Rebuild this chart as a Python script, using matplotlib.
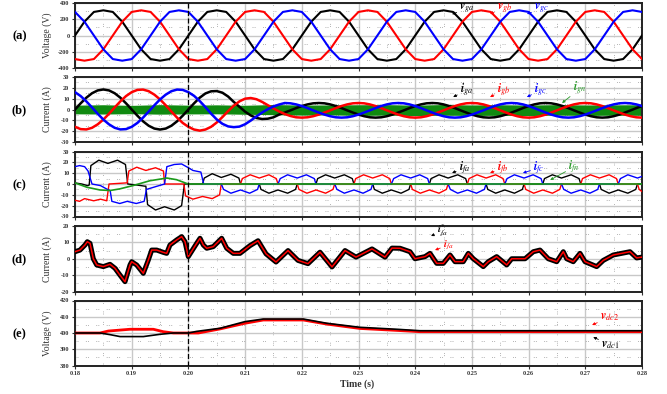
import numpy as np
import matplotlib
matplotlib.use("Agg")
import matplotlib.pyplot as plt
from matplotlib.ticker import MultipleLocator

plt.rcParams['font.family'] = ['Liberation Serif', 'DejaVu Serif']
plt.rcParams['mathtext.fontset'] = 'stix'

# ---------------- data ----------------
x_ticks = [0.18, 0.19, 0.20, 0.21, 0.22, 0.23, 0.24, 0.25, 0.26, 0.27, 0.28]
x_ticklabels = ['0.18', '0.19', '0.20', '0.21', '0.22', '0.23', '0.24', '0.25', '0.26', '0.27', '0.28']

# (a) grid voltages, sampled every 1/12 of a cycle (1.667 ms)
t_a = np.linspace(0.18, 0.28, 61)
v_ga = [0, 170, 290, 310, 290, 170, 0, -170, -290, -310, -290, -170,
        0, 170, 290, 310, 290, 170, 0, -170, -290, -310, -290, -170,
        0, 170, 290, 310, 290, 170, 0, -170, -290, -310, -290, -170,
        0, 170, 290, 310, 290, 170, 0, -170, -290, -310, -290, -170,
        0, 170, 290, 310, 290, 170, 0, -170, -290, -310, -290, -170, 0]
v_gb = [-290, -310, -290, -170, 0, 170, 290, 310, 290, 170, 0, -170,
        -290, -310, -290, -170, 0, 170, 290, 310, 290, 170, 0, -170,
        -290, -310, -290, -170, 0, 170, 290, 310, 290, 170, 0, -170,
        -290, -310, -290, -170, 0, 170, 290, 310, 290, 170, 0, -170,
        -290, -310, -290, -170, 0, 170, 290, 310, 290, 170, 0, -170, -290]
v_gc = [290, 170, 0, -170, -290, -310, -290, -170, 0, 170, 290, 310,
        290, 170, 0, -170, -290, -310, -290, -170, 0, 170, 290, 310,
        290, 170, 0, -170, -290, -310, -290, -170, 0, 170, 290, 310,
        290, 170, 0, -170, -290, -310, -290, -170, 0, 170, 290, 310,
        290, 170, 0, -170, -290, -310, -290, -170, 0, 170, 290, 310, 290]

# (b) grid currents, sampled every 1 ms from 0.180 to 0.280
t_b = np.linspace(0.18, 0.28, 101)
i_ga = [0, 5.7, 10.9, 15.0, 17.6, 18.5, 17.6, 15.0, 10.9, 5.7, 0, -5.7, -10.9, -15.0, -17.6,
        -18.5, -17.6, -15.0, -10.9, -5.7, 0,
        5.7, 10.9, 14.8, 16.8, 17.0, 15.5, 12.0, 7.0, 2.5, -2.0, -5.5, -7.8, -8.8, -8.5, -7.2,
        -4.7, -2.8, -0.8, 1.3, 3.2, 4.7, 5.7, 6.0, 5.7, 4.7, 3.2, 1.3, -0.8, -2.8, -4.7, -6.2, -7.2, -7.5, -7.2, -6.2,
        -4.7, -2.8, -0.8, 1.3, 3.2, 4.7, 5.7, 6.0, 5.7, 4.7, 3.2, 1.3, -0.8, -2.8, -4.7, -6.2, -7.2, -7.5, -7.2, -6.2,
        -4.7, -2.8, -0.8, 1.3, 3.2, 4.7, 5.7, 6.0, 5.7, 4.7, 3.2, 1.3, -0.8, -2.8, -4.7, -6.2, -7.2, -7.5, -7.2, -6.2,
        -4.7, -2.8, -0.8, 1.3, 3.2]
i_gb = [-16.0, -18.1, -18.4, -16.9, -13.7, -9.3, -3.9, 1.9, 7.5, 12.4, 16.0, 18.1, 18.4, 16.9,
        13.7, 9.3, 3.9, -1.9, -7.5, -12.4, -16.0,
        -18.5, -19.5, -18.5, -16.0, -12.0, -7.0, -1.5, 3.5, 7.5, 10.0, 10.6, 9.5, 7.0, 4.0, 1.0,
        -1.8, -4.2, -6.0, -7.2, -7.5,
        -7.2, -6.2, -4.7, -2.8, -0.8, 1.3, 3.2, 4.7, 5.7, 6.0, 5.7, 4.7, 3.2, 1.3, -0.8, -2.8, -4.7, -6.2, -7.2, -7.5,
        -7.2, -6.2, -4.7, -2.8, -0.8, 1.3, 3.2, 4.7, 5.7, 6.0, 5.7, 4.7, 3.2, 1.3, -0.8, -2.8, -4.7, -6.2, -7.2, -7.5,
        -7.2, -6.2, -4.7, -2.8, -0.8, 1.3, 3.2, 4.7, 5.7, 6.0, 5.7, 4.7, 3.2, 1.3, -0.8, -2.8, -4.7, -6.2, -7.2, -7.5]
i_gc = [16.0, 12.4, 7.5, 1.9, -3.9, -9.3, -13.7, -16.9, -18.4, -18.1, -16.0, -12.4, -7.5, -1.9,
        3.9, 9.3, 13.7, 16.9, 18.4, 18.1, 16.0,
        12.6, 7.8, 2.2, -3.8, -9.2, -13.2, -15.6, -16.3, -15.8, -13.6, -10.2, -6.4, -2.8, 0.3, 2.8, 4.6, 6.0,
        5.7, 4.7, 3.2, 1.3, -0.8, -2.8, -4.7, -6.2, -7.2, -7.5, -7.2, -6.2, -4.7, -2.8, -0.8, 1.3, 3.2, 4.7, 5.7, 6.0,
        5.7, 4.7, 3.2, 1.3, -0.8, -2.8, -4.7, -6.2, -7.2, -7.5, -7.2, -6.2, -4.7, -2.8, -0.8, 1.3, 3.2, 4.7, 5.7, 6.0,
        5.7, 4.7, 3.2, 1.3, -0.8, -2.8, -4.7, -6.2, -7.2, -7.5, -7.2, -6.2, -4.7, -2.8, -0.8, 1.3, 3.2, 4.7, 5.7, 6.0,
        5.7, 4.7, 3.2]
t_gn = [0.18, 0.185, 0.19, 0.195, 0.20, 0.205, 0.21, 0.215, 0.22, 0.225, 0.23, 0.235, 0.24,
        0.245, 0.25, 0.255, 0.26, 0.265, 0.27, 0.275, 0.28]
i_gn_hi = [4.0, 4.4, 3.8, 4.5, 4.0, 4.3, 3.9, 4.6, 4.1, 4.2, 4.4, 4.5, 4.0, 4.6, 4.2, 4.4,
           4.1, 4.5, 4.2, 4.3, 4.4]
i_gn_lo = [-4.0, -4.2, -3.9, -4.3, -4.1, -4.0, -4.4, -4.8, -5.2, -5.0, -5.5, -5.2, -5.6,
           -5.3, -5.5, -5.4, -5.6, -5.2, -5.5, -5.3, -5.4]

# (c) filter currents (time, value)
i_fa = [(0.1800, 1.0), (0.1812, 0.0), (0.1822, -1.5),
        (0.1825, -1.0), (0.1828, 17), (0.1842, 22), (0.1858, 19), (0.1875, 22), (0.1889, 18), (0.1893, 0),
        (0.1910, -1.0), (0.1923, -2.0),
        (0.1925, -2.0), (0.1928, -19), (0.1942, -24), (0.1958, -21), (0.1975, -24), (0.1988, -20), (0.1993, 0),
        (0.2024, 0),
        (0.2025, 0), (0.2028, 5.5), (0.2042, 9.5), (0.2058, 6), (0.2075, 9), (0.2089, 5.5), (0.2092, 0),
        (0.2125, 0), (0.2128, -5), (0.2142, -8.5), (0.2158, -5.5), (0.2175, -8.5), (0.2189, -5), (0.2192, 0),
        (0.2225, 0), (0.2228, 5), (0.2242, 8.5), (0.2258, 5.5), (0.2275, 8.5), (0.2289, 5), (0.2292, 0),
        (0.2325, 0), (0.2328, -5), (0.2342, -8.5), (0.2358, -5.5), (0.2375, -8.5), (0.2389, -5), (0.2392, 0),
        (0.2425, 0), (0.2428, 5), (0.2442, 8.5), (0.2458, 5.5), (0.2475, 8.5), (0.2489, 5), (0.2492, 0),
        (0.2525, 0), (0.2528, -5), (0.2542, -8.5), (0.2558, -5.5), (0.2575, -8.5), (0.2589, -5), (0.2592, 0),
        (0.2625, 0), (0.2628, 5), (0.2642, 8.5), (0.2658, 5.5), (0.2675, 8.5), (0.2689, 5), (0.2692, 0),
        (0.2725, 0), (0.2728, -5), (0.2742, -8.5), (0.2758, -5.5), (0.2775, -8.5), (0.2789, -5), (0.2792, 0),
        (0.2800, 0)]
i_fb = [(0.1800, -15), (0.1808, -16), (0.1817, -13.5), (0.1833, -15.5), (0.1845, -14), (0.1856, -15.5),
        (0.1860, 0), (0.1875, 0.5), (0.1890, 1.0),
        (0.1892, 1.0), (0.1895, 12), (0.1909, 15.5), (0.1925, 12.5), (0.1942, 15), (0.1956, 12), (0.1958, 0),
        (0.1990, 0),
        (0.1992, 0), (0.1995, -11), (0.2008, -14), (0.2025, -11.5), (0.2042, -13.5), (0.2055, -10), (0.2058, 0),
        (0.2092, 0), (0.2095, 5), (0.2109, 8.5), (0.2125, 5.5), (0.2142, 8.5), (0.2155, 5), (0.2158, 0),
        (0.2192, 0), (0.2195, -5), (0.2209, -8.5), (0.2225, -5.5), (0.2242, -8.5), (0.2255, -5), (0.2258, 0),
        (0.2292, 0), (0.2295, 5), (0.2309, 8.5), (0.2325, 5.5), (0.2342, 8.5), (0.2355, 5), (0.2358, 0),
        (0.2392, 0), (0.2395, -5), (0.2409, -8.5), (0.2425, -5.5), (0.2442, -8.5), (0.2455, -5), (0.2458, 0),
        (0.2492, 0), (0.2495, 5), (0.2509, 8.5), (0.2525, 5.5), (0.2542, 8.5), (0.2555, 5), (0.2558, 0),
        (0.2592, 0), (0.2595, -5), (0.2609, -8.5), (0.2625, -5.5), (0.2642, -8.5), (0.2655, -5), (0.2658, 0),
        (0.2692, 0), (0.2695, 5), (0.2709, 8.5), (0.2725, 5.5), (0.2742, 8.5), (0.2755, 5), (0.2758, 0),
        (0.2792, 0), (0.2795, -5), (0.2800, -7)]
i_fc = [(0.1800, 16), (0.1808, 17), (0.1817, 16), (0.1823, 12), (0.1830, 0),
        (0.1845, -1.5), (0.1859, -5.5),
        (0.1862, -6), (0.1865, -16), (0.1879, -18), (0.1892, -16), (0.1908, -18), (0.1922, -16), (0.1926, -5),
        (0.1945, -2), (0.1958, 0),
        (0.1962, 16), (0.1975, 18), (0.1988, 18.5), (0.2000, 15), (0.2008, 12.5), (0.2022, 11), (0.2027, 0),
        (0.2058, 0), (0.2062, -5), (0.2075, -8.5), (0.2092, -5.5), (0.2108, -8.5), (0.2122, -5), (0.2125, 0),
        (0.2158, 0), (0.2162, 5), (0.2175, 8.5), (0.2192, 5.5), (0.2208, 8.5), (0.2222, 5), (0.2225, 0),
        (0.2258, 0), (0.2262, -5), (0.2275, -8.5), (0.2292, -5.5), (0.2308, -8.5), (0.2322, -5), (0.2325, 0),
        (0.2358, 0), (0.2362, 5), (0.2375, 8.5), (0.2392, 5.5), (0.2408, 8.5), (0.2422, 5), (0.2425, 0),
        (0.2458, 0), (0.2462, -5), (0.2475, -8.5), (0.2492, -5.5), (0.2508, -8.5), (0.2522, -5), (0.2525, 0),
        (0.2558, 0), (0.2562, 5), (0.2575, 8.5), (0.2592, 5.5), (0.2608, 8.5), (0.2622, 5), (0.2625, 0),
        (0.2658, 0), (0.2662, -5), (0.2675, -8.5), (0.2692, -5.5), (0.2708, -8.5), (0.2722, -5), (0.2725, 0),
        (0.2758, 0), (0.2762, 5), (0.2775, 8.5), (0.2792, 5.5), (0.2800, 7)]
i_fn = [(0.1800, 1.0), (0.1821, -3.0), (0.1844, -5.5), (0.1862, -6.0), (0.1879, -4.5), (0.1902, -1.5),
        (0.1932, 3.0), (0.1962, 5.5), (0.1979, 4.0), (0.1997, 0.5), (0.2000, 0.0), (0.2800, 0.0)]

# (d) reference and actual phase-a filter current
i_fa_ref = [(0.18000, 4.3), (0.18088, 5.3), (0.18176, 8.4), (0.18217, 10.4), (0.18265, 9.4), (0.18323, 0.0),
            (0.18383, -3.8), (0.18499, -4.8), (0.18617, -3.4), (0.18705, -5.8), (0.18794, -10.0),
            (0.18882, -14.0), (0.18970, -3.8), (0.19000, -1.8), (0.19088, -3.8), (0.19205, -8.9),
            (0.19293, -0.8), (0.19353, 5.3), (0.19441, 5.3), (0.19557, 3.9), (0.19617, 3.3), (0.19675, 8.4),
            (0.19794, 11.5), (0.19882, 13.5), (0.19940, 10.4), (0.19998, 1.3), (0.20146, 9.4), (0.20205, 12.5),
            (0.20263, 8.4), (0.20323, 6.4), (0.20439, 7.4), (0.20587, 12.5), (0.20675, 6.4), (0.20792, 3.3),
            (0.20910, 3.3), (0.21086, 8.0), (0.21228, 11.0), (0.21369, 3.0), (0.21545, -2.0), (0.21757, 5.0),
            (0.21933, -1.0), (0.22109, -3.0), (0.22321, 4.0), (0.22533, -5.0), (0.22762, 5.0), (0.22956, 1.0),
            (0.23238, 6.0), (0.23467, 1.0), (0.23591, 6.5), (0.23732, 6.4), (0.23908, 4.3), (0.23996, 0.0),
            (0.24173, 1.3), (0.24261, 3.3), (0.24379, -2.8), (0.24496, -2.8), (0.24614, 2.3), (0.24702, -1.8),
            (0.24848, -1.8), (0.24937, 3.3), (0.25025, 0.0), (0.25201, -4.8), (0.25289, -1.8), (0.25437, 1.3),
            (0.25614, -3.8), (0.25702, 0.0), (0.25937, 0.0), (0.26083, 4.3), (0.26201, 5.3), (0.26347, 0.0),
            (0.26496, -1.8), (0.26612, 4.3), (0.26672, 0.0), (0.26788, -1.8), (0.26907, 3.3), (0.26995, -1.8),
            (0.27201, -4.8), (0.27317, -1.0), (0.27494, 2.3), (0.27788, 4.3), (0.27906, 0.5), (0.28000, 1.0)]

# (e) dc-link capacitor voltages
v_dc2 = [(0.18000, 400.0), (0.18441, 400.0), (0.18587, 401.2), (0.18970, 402.3), (0.19381, 402.3),
         (0.19557, 400.8), (0.19734, 400.0), (0.20175, 400.0), (0.20557, 402.5), (0.20998, 406.0),
         (0.21321, 408.0), (0.22026, 408.0), (0.22439, 405.5), (0.23026, 402.8), (0.23674, 401.6),
         (0.24085, 400.8), (0.28000, 400.8)]
v_dc1 = [(0.18000, 400.0), (0.18441, 400.0), (0.18617, 399.0), (0.18794, 397.8), (0.19205, 397.8),
         (0.19499, 399.2), (0.19734, 400.0), (0.19998, 400.0), (0.20146, 401.0), (0.20557, 402.9),
         (0.20998, 407.0), (0.21321, 408.6), (0.22026, 408.6), (0.22439, 406.0), (0.23026, 403.5),
         (0.23674, 402.3), (0.24085, 401.4), (0.28000, 401.4)]

# ---------------- figure ----------------
fig = plt.figure(figsize=(6.67, 3.94), dpi=100)
W, H = 667.0, 394.0
L, R = 75.0, 642.0
panels_px = [(3, 68), (77, 142), (151.5, 216.5), (226, 291.5), (300.5, 365.5)]
axes = []
for top, bot in panels_px:
    axes.append(fig.add_axes([L / W, 1 - bot / H, (R - L) / W, (bot - top) / H]))

specs = [((-400, 400), [-400, -200, 0, 200, 400], 100, 'Voltage (V)', '(a)'),
         ((-30, 30), [-30, -20, -10, 0, 10, 20, 30], 5, 'Current (A)', '(b)'),
         ((-30, 30), [-30, -20, -10, 0, 10, 20, 30], 5, 'Current (A)', '(c)'),
         ((-20, 20), [-20, -10, 0, 10, 20], 5, 'Current (A)', '(d)'),
         ((380, 420), [380, 390, 400, 410, 420], 5, 'Voltage (V)', '(e)')]

for n, (ax, (yl, yt, ymin, ylab, letter)) in enumerate(zip(axes, specs)):
    ax.set_xlim(0.18, 0.28)
    ax.set_ylim(*yl)
    ax.set_xticks(x_ticks)
    ax.set_yticks(yt)
    ax.set_yticklabels([str(v) for v in yt], fontsize=4.5, fontweight='bold')
    ax.xaxis.set_minor_locator(MultipleLocator(0.005))
    ax.yaxis.set_minor_locator(MultipleLocator(ymin))
    ax.grid(which='major', color='#c8c8c8', lw=1.0, zorder=0)
    ax.grid(which='minor', color='#9a9a9a', lw=0.6, linestyle=(0, (1, 1.5, 1, 9)), zorder=0)
    ax.set_axisbelow(True)
    ax.tick_params(which='minor', length=0)
    ax.tick_params(which='major', direction='out', length=2.5, width=0.8, pad=1.5, colors='#333333')
    for s in ax.spines.values():
        s.set_linewidth(1.4)
        s.set_color('#222222')
    ax.axvline(0.20, color='k', lw=0.9, ls=(0, (4, 2)), zorder=6)
    if n < 4:
        ax.set_xticklabels([])
    else:
        ax.set_xticklabels(x_ticklabels, fontsize=4.5, fontweight='bold')
    ax.set_ylabel(ylab, fontsize=7, color='#333333')
    ax.yaxis.set_label_coords(-0.041, 0.5)
    top, bot = panels_px[n]
    fig.text(19.5 / W, 1 - ((top + bot) / 2 + 1) / H, letter, fontsize=9, fontweight='bold',
             ha='center', va='center')

fig.text(357 / W, 1 - 384 / H, 'Time (s)', fontsize=7, fontweight='bold', ha='center', va='center',
         color='#333333')


def tag(ax, text, color, xytext, xy, fs=8.5):
    ax.annotate(text, xy=xy, xytext=xytext, color=color, fontsize=fs, ha='left', va='center',
                zorder=10,
                arrowprops=dict(arrowstyle='-|>', color=color, lw=0.6, mutation_scale=4,
                                shrinkA=0, shrinkB=0))


# (a)
ax = axes[0]
ax.plot(t_a, v_ga, color='black', lw=1.5, zorder=3)
ax.plot(t_a, v_gb, color='red', lw=1.5, zorder=3)
ax.plot(t_a, v_gc, color='blue', lw=1.5, zorder=3)
tag(ax, r'$\mathbfit{v}_{ga}$', 'black', (0.2478, 330), (0.2465, 262))
tag(ax, r'$\mathbfit{v}_{gb}$', 'red', (0.2544, 330), (0.2532, 265))
tag(ax, r'$\mathbfit{v}_{gc}$', 'blue', (0.2610, 330), (0.2597, 265))

# (b)
ax = axes[1]
ax.fill_between(t_gn, i_gn_lo, i_gn_hi, color='#108a10', lw=0, zorder=2)
ax.plot(t_b, i_ga, color='black', lw=1.8, zorder=3)
ax.plot(t_b, i_gb, color='red', lw=1.8, zorder=3)
ax.plot(t_b, i_gc, color='blue', lw=1.8, zorder=3)
tag(ax, r'$\mathbfit{i}_{ga}$', 'black', (0.2479, 18), (0.2467, 11.5))
tag(ax, r'$\mathbfit{i}_{gb}$', 'red', (0.2544, 18), (0.2532, 11.5))
tag(ax, r'$\mathbfit{i}_{gc}$', 'blue', (0.2610, 18), (0.2597, 11.5))
tag(ax, r'$\mathbfit{i}_{gn}$', '#2a9a2a', (0.2678, 19), (0.2659, 6))

# (c)
ax = axes[2]
for series, col in ((i_fa, 'black'), (i_fb, 'red'), (i_fc, 'blue')):
    tt, vv = zip(*series)
    ax.plot(tt, vv, color=col, lw=1.0, zorder=3)
tt, vv = zip(*i_fn)
ax.plot(tt, vv, color='#1a9a1a', lw=1.2, zorder=4)
tag(ax, r'$\mathbfit{i}_{fa}$', 'black', (0.2477, 14.8), (0.2465, 10.2))
tag(ax, r'$\mathbfit{i}_{fb}$', 'red', (0.2544, 14.8), (0.2532, 10.2))
tag(ax, r'$\mathbfit{i}_{fc}$', 'blue', (0.2608, 14.8), (0.2590, 10.2))
tag(ax, r'$\mathbfit{i}_{fn}$', '#2a9a2a', (0.2670, 15.7), (0.2638, 3.7))

# (d)
ax = axes[3]
tt, vv = zip(*i_fa_ref)
ax.plot(tt, vv, color='black', lw=3.6, zorder=3, solid_joinstyle='round')
ax.plot(tt, vv, color='red', lw=1.1, zorder=4)
tag(ax, r'$\mathbfit{i}^{*}_{fa}$', 'black', (0.2438, 16.9), (0.2428, 13.9), fs=7.5)
tag(ax, r'$\mathbfit{i}_{fa}$', 'red', (0.2449, 8.4), (0.2435, 5.3), fs=7.5)

# (e)
ax = axes[4]
tt, vv = zip(*v_dc2)
ax.plot(tt, vv, color='red', lw=2.0, zorder=3)
tt, vv = zip(*v_dc1)
ax.plot(tt, vv, color='black', lw=1.2, zorder=4)
tag(ax, r'$\mathbfit{v}_{dc2}$', 'red', (0.2726, 409.8), (0.2712, 404.9))
tag(ax, r'$\mathbfit{v}_{dc1}$', 'black', (0.2728, 392.6), (0.2714, 397.5))

fig.savefig('out.png', dpi=100)
